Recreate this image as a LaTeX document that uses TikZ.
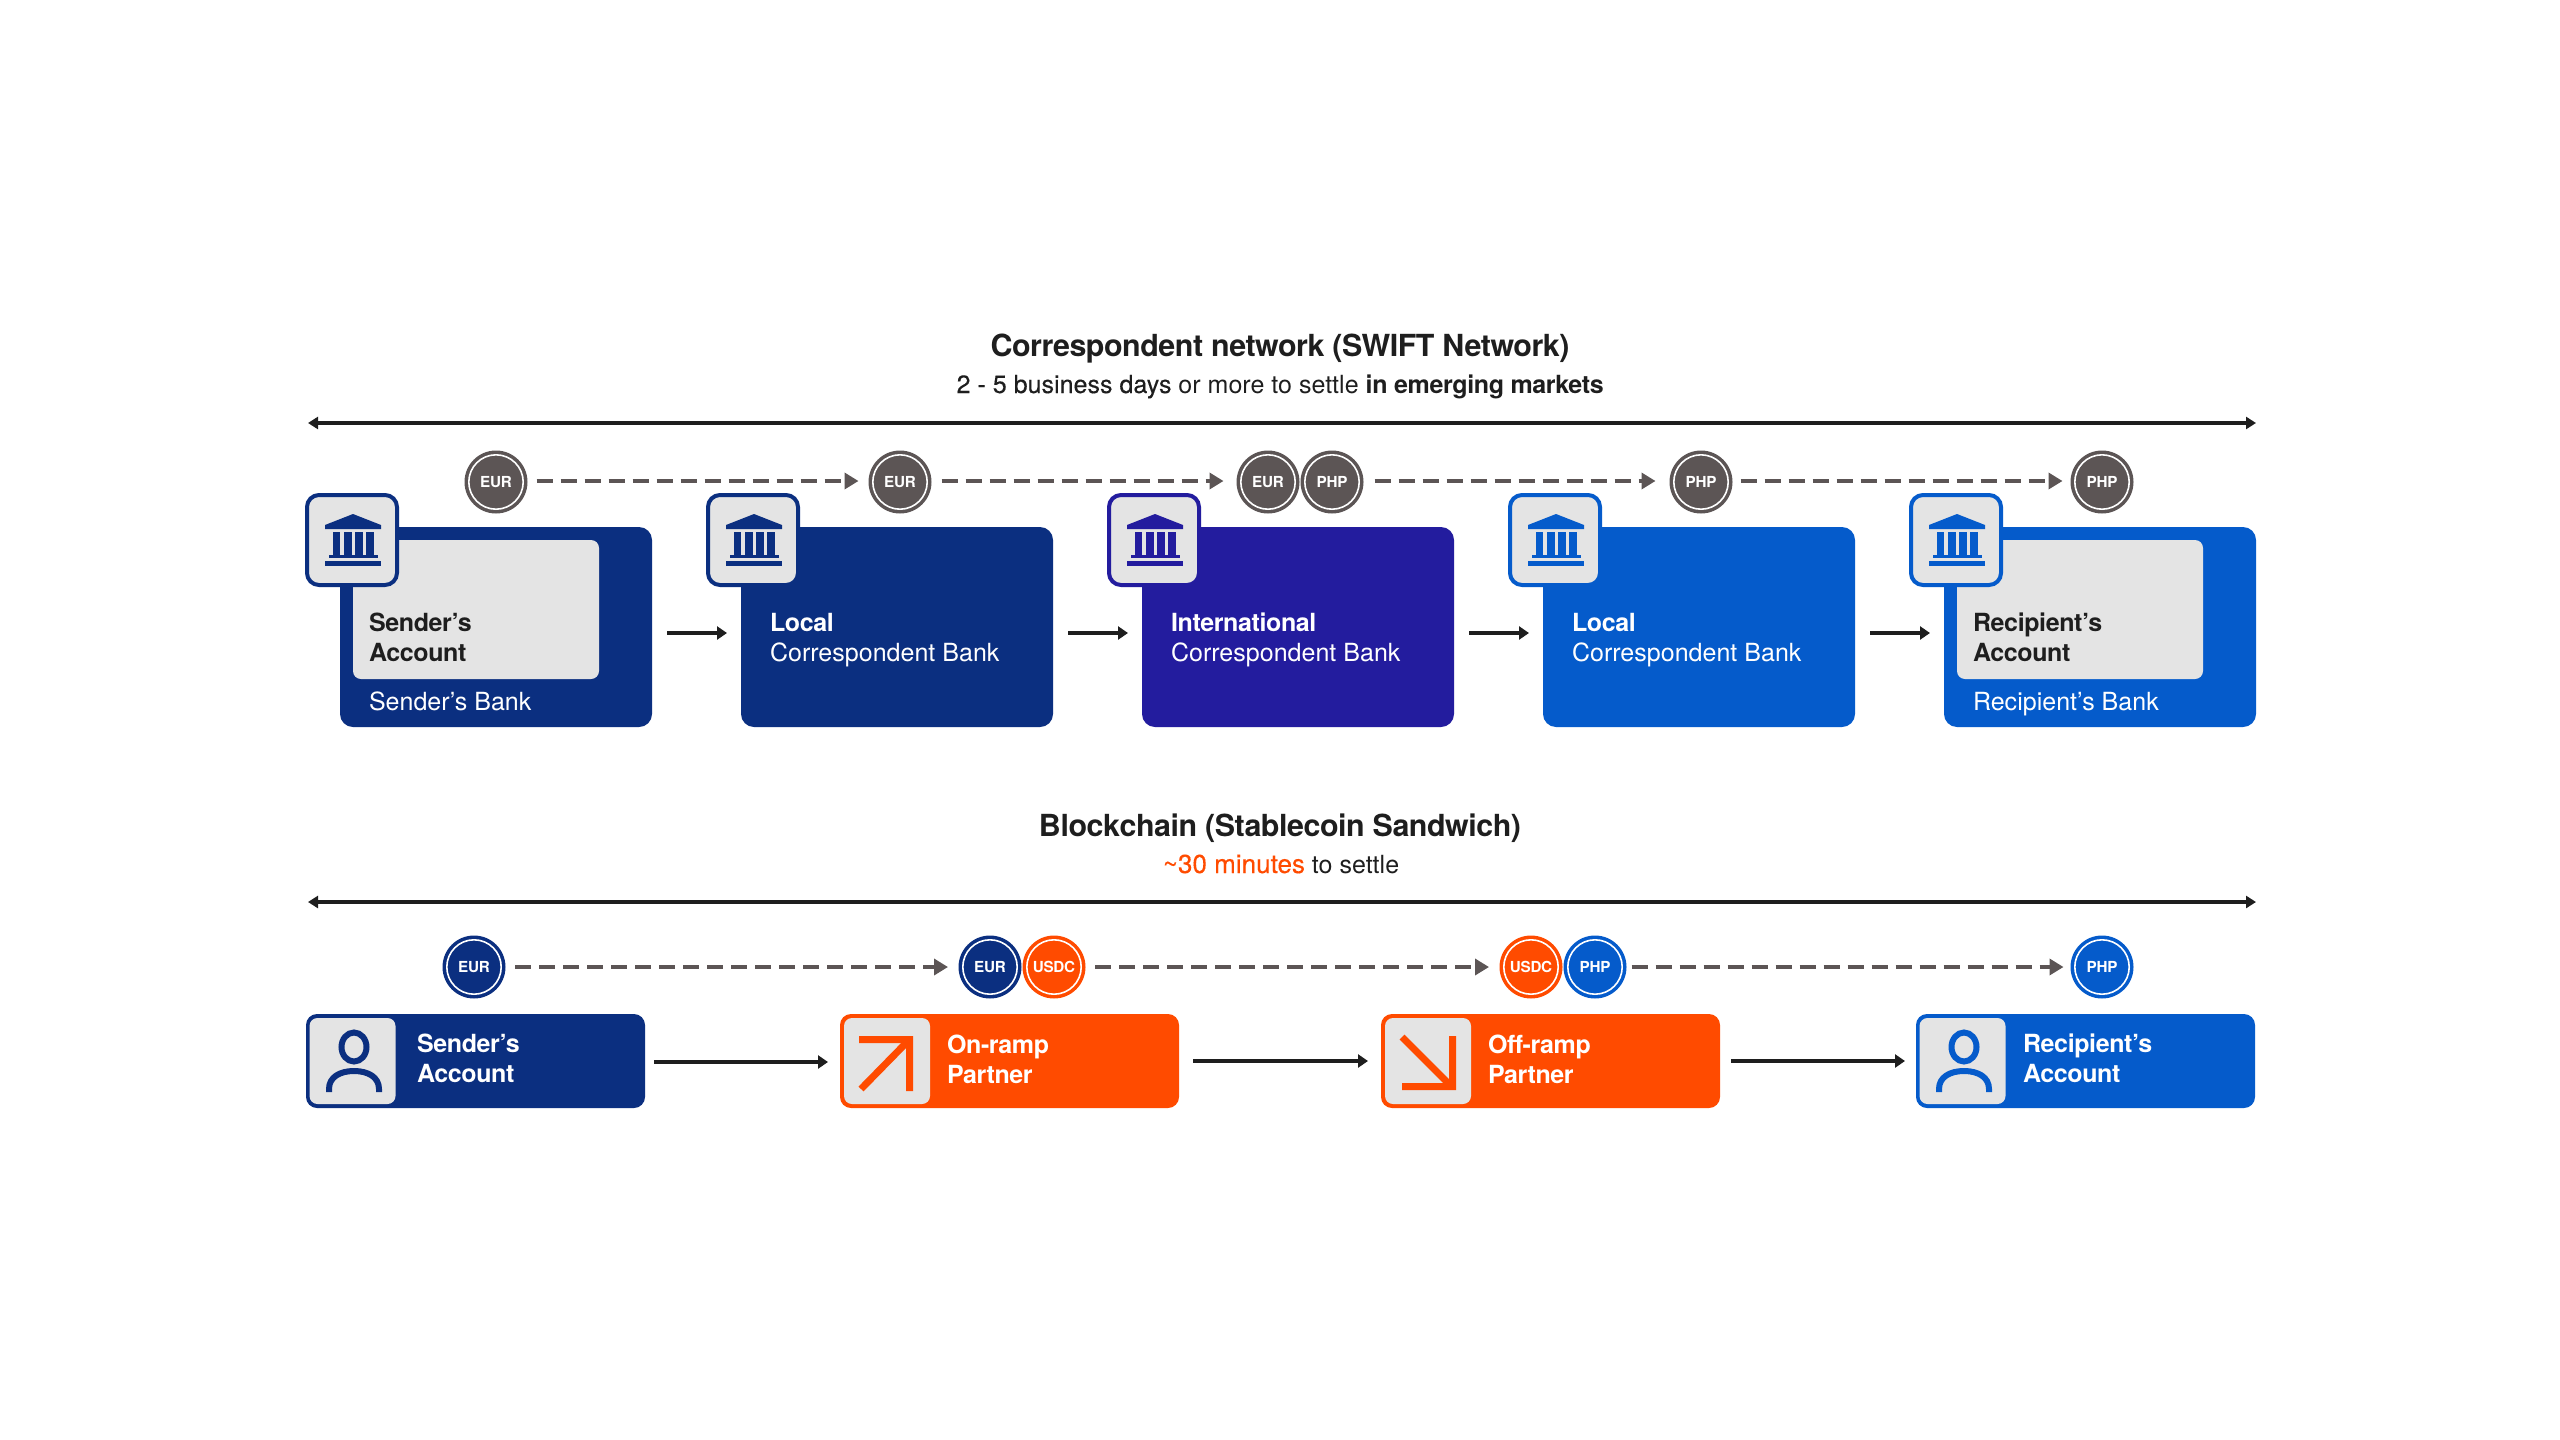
\documentclass[tikz,border=0pt]{standalone}
\usepackage{fontspec}
\setmainfont[LetterSpace=0.1,BoldFeatures={LetterSpace=-1.5}]{TeX Gyre Heros}
\newfontfamily\medfont[LetterSpace=0.1,FakeBold=0.25]{TeX Gyre Heros}
\usetikzlibrary{arrows.meta}
\definecolor{navy}{HTML}{0B2F80}
\definecolor{indigo}{HTML}{231C9E}
\definecolor{bluec}{HTML}{055BCB}
\definecolor{orangec}{HTML}{FF4B00}
\definecolor{paper}{HTML}{E4E4E4}
\definecolor{slatec}{HTML}{5C5555}
\definecolor{inkc}{HTML}{1E1E1E}
\tikzset{
  x=.5pt,y=-.5pt,
  bankbox/.style={fill=#1,rounded corners=6.5pt,minimum width=156pt,minimum height=100pt,inner sep=0,outer sep=0},
  acctcard/.style={fill=paper,rounded corners=4pt,minimum width=123pt,minimum height=69.5pt,inner sep=0,outer sep=0},
  bankicon/.style={fill=paper,draw=#1,line width=2pt,rounded corners=6pt,minimum width=45pt,minimum height=45pt,inner sep=0,outer sep=0},
  rowbox/.style={fill=#1,rounded corners=5.5pt,minimum width=169.5pt,minimum height=47pt,inner sep=0,outer sep=0},
  rowicon/.style={fill=paper,rounded corners=4pt,minimum width=43pt,minimum height=43pt,inner sep=0,outer sep=0},
  coin/.style={circle,fill=#1,minimum size=31.5pt,inner sep=0,outer sep=0,text=white,
    font=\fontsize{7.6}{9}\selectfont\bfseries,
    path picture={\draw[white,line width=.8pt] (path picture bounding box.center) circle (13.6pt);}},
  lab/.style={anchor=base west,inner sep=0,outer sep=0,align=left,text=#1,font=\fontsize{12.5}{15}\selectfont},
  heading/.style={anchor=base,inner sep=0,outer sep=0,text=inkc,font=\fontsize{15.2}{18}\selectfont\bfseries},
  subhead/.style={anchor=base,inner sep=0,outer sep=0,text=inkc,font=\fontsize{12.5}{15}\selectfont},
  span/.style={draw=inkc,line width=2pt,{Triangle[length=5pt,width=6pt]}-{Triangle[length=5pt,width=6pt]}},
  flowline/.style={draw=inkc,line width=1.6pt,-{Triangle[length=5pt,width=6.5pt]}},
  coinflow/.style={draw=slatec,line width=2.2pt,dash pattern=on 8pt off 4pt,-{Triangle[length=7pt,width=8pt]}},
}
\newcommand{\bankglyph}[3]{%
  \begin{scope}[shift={(#1,#2)},fill=#3]
    \fill (20,32) -- (48,21) -- (76,32) -- (76,36) -- (20,36) -- cycle;
    \fill (27.7,39) rectangle (35.3,62);
    \fill (39,39) rectangle (46.7,62);
    \fill (50,39) rectangle (57.7,62);
    \fill (61,39) rectangle (68.7,62);
    \fill (23.7,62) rectangle (72.7,65);
    \fill (20,68) rectangle (76,73);
  \end{scope}}
\newcommand{\personglyph}[3]{%
  \begin{scope}[shift={(#1,#2)},draw=#3,line width=3pt]
    \draw (44,29) ellipse (12.5 and 14.5);
    \draw (19,74) -- (19,71) .. controls (19,59) and (30,53) .. (44,53) .. controls (58,53) and (69,59) .. (69,71) -- (69,74);
  \end{scope}}
\begin{document}
\begin{tikzpicture}
\useasboundingbox (0,0) rectangle (2560,1440);
\fill[white] (0,0) rectangle (2560,1440);

% --- correspondent network ---
\node[heading] (title1) at (1280,356) {Correspondent network (SWIFT Network)};
\node[subhead] (sub1) at (1280,393) {{\medfont 2 - 5 business days} or more to settle \textbf{in emerging markets}};
\coordinate (s1a) at (308,423);
\coordinate (s1b) at (2256,423);
\draw[span] (s1a) -- (s1b);

\node[bankbox=navy] (b1) at (496,627) {};
\node[bankbox=navy] (b2) at (897,627) {};
\node[bankbox=indigo] (b3) at (1298,627) {};
\node[bankbox=bluec] (b4) at (1699,627) {};
\node[bankbox=bluec] (b5) at (2100,627) {};
\node[acctcard] (c1) at (476,609.5) {};
\node[acctcard] (c5) at (2080,609.5) {};

\node[bankicon=navy] (i1) at (352,540) {};
\node[bankicon=navy] (i2) at (753,540) {};
\node[bankicon=indigo] (i3) at (1154,540) {};
\node[bankicon=bluec] (i4) at (1555,540) {};
\node[bankicon=bluec] (i5) at (1956,540) {};
\bankglyph{305}{493}{navy}
\bankglyph{706}{493}{navy}
\bankglyph{1107}{493}{indigo}
\bankglyph{1508}{493}{bluec}
\bankglyph{1909}{493}{bluec}

\node[lab=inkc] (t1) at (369,661) {\textbf{Sender’s}\\\textbf{Account}};
\node[lab=white] (t1b) at (369,710) {Sender’s Bank};
\node[lab=white] (t2) at (770,661) {\textbf{Local}\\Correspondent Bank};
\node[lab=white] (t3) at (1171,661) {\textbf{International}\\Correspondent Bank};
\node[lab=white] (t4) at (1572,661) {\textbf{Local}\\Correspondent Bank};
\node[lab=inkc] (t5) at (1973,661) {\textbf{Recipient’s}\\\textbf{Account}};
\node[lab=white] (t5b) at (1973,710) {Recipient’s Bank};

\draw[flowline,shorten <=7.5pt,shorten >=7pt] ([yshift=-3pt]b1.east) -- ([yshift=-3pt]b2.west);
\draw[flowline,shorten <=7.5pt,shorten >=7pt] ([yshift=-3pt]b2.east) -- ([yshift=-3pt]b3.west);
\draw[flowline,shorten <=7.5pt,shorten >=7pt] ([yshift=-3pt]b3.east) -- ([yshift=-3pt]b4.west);
\draw[flowline,shorten <=7.5pt,shorten >=7pt] ([yshift=-3pt]b4.east) -- ([yshift=-3pt]b5.west);

\node[coin=slatec] (k1) at (496,482) {EUR};
\node[coin=slatec] (k2) at (900,482) {EUR};
\node[coin=slatec] (k3) at (1268,482) {EUR};
\node[coin=slatec] (k4) at (1332,482) {PHP};
\node[coin=slatec] (k5) at (1701,482) {PHP};
\node[coin=slatec] (k6) at (2102,482) {PHP};
\draw[coinflow,shorten <=4.5pt,shorten >=5pt] ([yshift=.5pt]k1.east) -- ([yshift=.5pt]k2.west);
\draw[coinflow,shorten <=5pt,shorten >=6.5pt] ([yshift=.5pt]k2.east) -- ([yshift=.5pt]k3.west);
\draw[coinflow,shorten <=5.5pt,shorten >=7pt] ([yshift=.5pt]k4.east) -- ([yshift=.5pt]k5.west);
\draw[coinflow,shorten <=4pt,shorten >=4pt] ([yshift=.5pt]k5.east) -- ([yshift=.5pt]k6.west);

% --- blockchain ---
\node[heading] (title2) at (1280,836) {Blockchain (Stablecoin Sandwich)};
\node[subhead] (sub2) at (1281,873) {{\fontsize{13}{15}\selectfont\medfont\color{orangec}\textasciitilde 30 minutes} to settle};
\coordinate (s2a) at (308,902);
\coordinate (s2b) at (2256,902);
\draw[span] (s2a) -- (s2b);

\node[coin=navy] (m1) at (474,967) {EUR};
\node[coin=navy] (m2) at (990,967) {EUR};
\node[coin=orangec] (m3) at (1054,967) {USDC};
\node[coin=orangec] (m4) at (1531,967) {USDC};
\node[coin=bluec] (m5) at (1595,967) {PHP};
\node[coin=bluec] (m6) at (2102,967) {PHP};
\draw[coinflow,shorten <=4.75pt,shorten >=5.25pt] (m1.east) -- (m2.west);
\draw[coinflow,shorten <=4.75pt,shorten >=5.25pt] (m3.east) -- (m4.west);
\draw[coinflow,shorten <=2.5pt,shorten >=3.5pt] (m5.east) -- (m6.west);

\node[rowbox=navy] (r1) at (475.5,1061) {};
\node[rowbox=orangec] (r2) at (1009.5,1061) {};
\node[rowbox=orangec] (r3) at (1550.5,1061) {};
\node[rowbox=bluec] (r4) at (2085.5,1061) {};
\node[rowicon] (q1) at (352.5,1061) {};
\node[rowicon] (q2) at (887,1061) {};
\node[rowicon] (q3) at (1428,1061) {};
\node[rowicon] (q4) at (1962.5,1061) {};
\personglyph{310}{1018}{navy}
\personglyph{1920}{1018}{bluec}
% on-ramp arrow
\fill[orangec] (859,1036) -- (913,1036) -- (913,1091) -- (906,1091) -- (906,1043) -- (859,1043) -- cycle;
\draw[orangec,line width=3.5pt] (861,1089) -- (908,1041);
% off-ramp arrow
\fill[orangec] (1449,1036) -- (1456,1036) -- (1456,1090) -- (1402,1090) -- (1402,1083) -- (1449,1083) -- cycle;
\draw[orangec,line width=3.5pt] (1402,1037) -- (1451,1086);

\node[lab=white] (u1) at (417,1082) {\textbf{Sender’s}\\\textbf{Account}};
\node[lab=white] (u2) at (947,1083) {\textbf{On-ramp}\\\textbf{Partner}};
\node[lab=white] (u3) at (1488,1083) {\textbf{Off-ramp}\\\textbf{Partner}};
\node[lab=white] (u4) at (2023,1082) {\textbf{Recipient’s}\\\textbf{Account}};

\draw[flowline,shorten <=4.5pt,shorten >=6pt] ([yshift=-.5pt]r1.east) -- ([yshift=-.5pt]r2.west);
\draw[flowline,shorten <=7pt,shorten >=6.5pt] (r2.east) -- (r3.west);
\draw[flowline,shorten <=5.5pt,shorten >=5.5pt] (r3.east) -- (r4.west);
\end{tikzpicture}
\end{document}
